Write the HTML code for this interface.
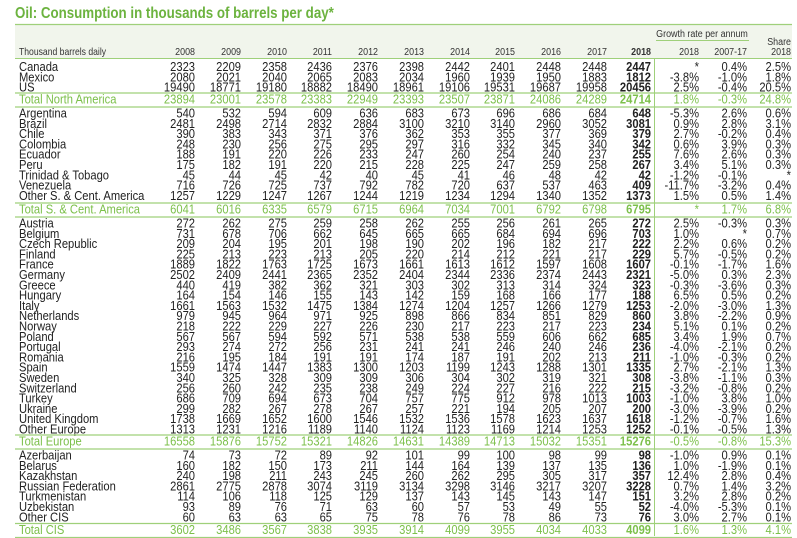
<!DOCTYPE html>
<html><head><meta charset="utf-8"><style>
html,body{margin:0;padding:0;background:#fff;}
svg{display:block;font-family:"Liberation Sans Narrow","Liberation Sans",Arial,sans-serif;}
</style></head><body>
<svg id="chart" width="797" height="538" viewBox="0 0 797 538">
<rect x="15" y="25" width="777" height="33" fill="#f1f5ec"/>
<text transform="translate(15,18) scale(0.86,1)" font-size="15.5" font-weight="bold" fill="#6cb33f" font-family="Liberation Sans, sans-serif">Oil: Consumption in thousands of barrels per day*</text>
<line x1="15" y1="24.5" x2="792" y2="24.5" stroke="#9fd07a" stroke-width="1.2"/>
<text transform="translate(702,37) scale(0.85,1)" font-size="10.5" fill="#333" text-anchor="middle">Growth rate per annum</text>
<line x1="656" y1="40.5" x2="749" y2="40.5" stroke="#9fd07a"/>
<text transform="translate(791,45) scale(0.85,1)" font-size="10.5" fill="#333" text-anchor="end">Share</text>
<text transform="translate(19,55) scale(0.82,1)" font-size="10.5" fill="#333">Thousand barrels daily</text>
<line x1="15" y1="58.5" x2="792" y2="58.5" stroke="#9fd07a"/>
<line x1="654.5" y1="58" x2="654.5" y2="536" stroke="#9fd07a"/>
<g id="body"></g>
</svg>
<script>
const years = ["2008","2009","2010","2011","2012","2013","2014","2015","2016","2017","2018"];
const growthHeaders = ["2018","2007-17","2018"];
const naRows = [
["Canada",2323,2209,2358,2436,2376,2398,2442,2401,2448,2448,2447,"*","0.4%","2.5%"],
["Mexico",2080,2021,2040,2065,2083,2034,1960,1939,1950,1883,1812,"-3.8%","-1.0%","1.8%"],
["US",19490,18771,19180,18882,18490,18961,19106,19531,19687,19958,20456,"2.5%","-0.4%","20.5%"]];
const naTotal = ["Total North America",23894,23001,23578,23383,22949,23393,23507,23871,24086,24289,24714,"1.8%","-0.3%","24.8%"];
const scaRows = [
["Argentina",540,532,594,609,636,683,673,696,686,684,648,"-5.3%","2.6%","0.6%"],
["Brazil",2481,2498,2714,2832,2884,3100,3210,3140,2960,3052,3081,"0.9%","2.8%","3.1%"],
["Chile",390,383,343,371,376,362,353,355,377,369,379,"2.7%","-0.2%","0.4%"],
["Colombia",248,230,256,275,295,297,316,332,345,340,342,"0.6%","3.9%","0.3%"],
["Ecuador",188,191,220,226,233,247,260,254,240,237,255,"7.6%","2.6%","0.3%"],
["Peru",175,182,191,220,215,228,225,247,259,258,267,"3.4%","5.1%","0.3%"],
["Trinidad & Tobago",45,44,45,42,40,45,41,46,48,42,42,"-1.2%","-0.1%","*"],
["Venezuela",716,726,725,737,792,782,720,637,537,463,409,"-11.7%","-3.2%","0.4%"],
["Other S. & Cent. America",1257,1229,1247,1267,1244,1219,1234,1294,1340,1352,1373,"1.5%","0.5%","1.4%"]];
const scaTotal = ["Total S. & Cent. America",6041,6016,6335,6579,6715,6964,7034,7001,6792,6798,6795,"*","1.7%","6.8%"];
const euRows = [
["Austria",272,262,275,259,258,262,255,256,261,265,272,"2.5%","-0.3%","0.3%"],
["Belgium",731,678,706,662,645,665,665,684,694,696,703,"1.0%","*","0.7%"],
["Czech Republic",209,204,195,201,198,190,202,196,182,217,222,"2.2%","0.6%","0.2%"],
["Finland",225,213,223,213,205,220,214,212,221,217,229,"5.7%","-0.5%","0.2%"],
["France",1889,1822,1763,1725,1673,1661,1613,1612,1597,1608,1607,"-0.1%","-1.7%","1.6%"],
["Germany",2502,2409,2441,2365,2352,2404,2344,2336,2374,2443,2321,"-5.0%","0.3%","2.3%"],
["Greece",440,419,382,362,321,303,302,313,314,324,323,"-0.3%","-3.6%","0.3%"],
["Hungary",164,154,146,155,143,142,159,168,166,177,188,"6.5%","0.5%","0.2%"],
["Italy",1661,1563,1532,1475,1384,1274,1204,1257,1266,1279,1253,"-2.0%","-3.0%","1.3%"],
["Netherlands",979,945,964,971,925,898,866,834,851,829,860,"3.8%","-2.2%","0.9%"],
["Norway",218,222,229,227,226,230,217,223,217,223,234,"5.1%","0.1%","0.2%"],
["Poland",567,567,594,592,571,538,538,559,606,662,685,"3.4%","1.9%","0.7%"],
["Portugal",293,274,272,256,231,241,241,246,240,246,236,"-4.0%","-2.1%","0.2%"],
["Romania",216,195,184,191,191,174,187,191,202,213,211,"-1.0%","-0.3%","0.2%"],
["Spain",1559,1474,1447,1383,1300,1203,1199,1243,1288,1301,1335,"2.7%","-2.1%","1.3%"],
["Sweden",340,325,328,309,309,306,304,302,319,321,308,"-3.8%","-1.1%","0.3%"],
["Switzerland",256,260,242,235,238,249,224,227,216,222,215,"-3.2%","-0.8%","0.2%"],
["Turkey",686,709,694,673,704,757,775,912,978,1013,1003,"-1.0%","3.8%","1.0%"],
["Ukraine",299,282,267,278,267,257,221,194,205,207,200,"-3.0%","-3.9%","0.2%"],
["United Kingdom",1738,1669,1652,1600,1546,1532,1536,1578,1623,1637,1618,"-1.2%","-0.7%","1.6%"],
["Other Europe",1313,1231,1216,1189,1140,1124,1123,1169,1214,1253,1252,"-0.1%","-0.5%","1.3%"]];
const euTotal = ["Total Europe",16558,15876,15752,15321,14826,14631,14389,14713,15032,15351,15276,"-0.5%","-0.8%","15.3%"];
const cisRows = [
["Azerbaijan",74,73,72,89,92,101,99,100,98,99,98,"-1.0%","0.9%","0.1%"],
["Belarus",160,182,150,173,211,144,164,139,137,135,136,"1.0%","-1.9%","0.1%"],
["Kazakhstan",240,198,211,243,245,260,262,295,305,317,357,"12.4%","2.8%","0.4%"],
["Russian Federation",2861,2775,2878,3074,3119,3134,3298,3146,3217,3207,3228,"0.7%","1.4%","3.2%"],
["Turkmenistan",114,106,118,125,129,137,143,145,143,147,151,"3.2%","2.8%","0.2%"],
["Uzbekistan",93,89,76,71,63,60,57,53,49,55,52,"-4.0%","-5.3%","0.1%"],
["Other CIS",60,63,63,65,75,78,76,78,86,73,76,"3.0%","2.7%","0.1%"]];
const cisTotal = ["Total CIS",3602,3486,3567,3838,3935,3914,4099,3955,4034,4033,4099,"1.6%","1.3%","4.1%"];

const NS="http://www.w3.org/2000/svg";
const g=document.getElementById('body');
const colX=[195,241,287,332,378,424,470,515,561,607,651,699,747,791];
function slug(s){return s.toLowerCase().replace(/[^a-z0-9]+/g,'-').replace(/^-|-$/g,'');}
function txt(x,y,s,opt){
  const t=document.createElementNS(NS,'text');
  t.setAttribute('transform','translate('+x+','+y+') scale('+(opt.sx||0.86)+',1)');
  t.setAttribute('font-size',opt.size||13);
  t.setAttribute('fill',opt.fill||'#222');
  if(opt.anchor)t.setAttribute('text-anchor',opt.anchor);
  if(opt.bold)t.setAttribute('font-weight','bold');
  t.textContent=s;
  
  
  g.appendChild(t);return t;
}
function line(y,name){
  const l=document.createElementNS(NS,'line');
  l.setAttribute('x1',15);l.setAttribute('x2',792);l.setAttribute('y1',y);l.setAttribute('y2',y);
  l.setAttribute('stroke','#9fd07a');l.setAttribute('stroke-width','1.2');
  
  
  g.appendChild(l);
}
years.forEach((yr,i)=>txt(colX[i],55,yr,{size:10.5,sx:0.85,fill:'#333',anchor:'end',bold:i===10,name:'year-header-'+yr}));
growthHeaders.forEach((h,i)=>txt(colX[11+i],55,h,{size:10.5,sx:0.85,fill:'#333',anchor:'end',name:'growth-header-'+slug(h)+'-'+i}));
function row(r,y,total){
  const fill=total?'#7cc04b':'#222';
  const base=slug(r[0]);
  txt(19,y,r[0],{fill:fill,name:'row-label-'+base});
  for(let i=1;i<r.length;i++){
    txt(colX[i-1],y,String(r[i]),{fill:fill,anchor:'end',bold:i===11,name:'cell-'+base+'-'+i});
  }
}
function section(rows,total,y0,ty){
  rows.forEach((r,i)=>row(r,y0+i*10.3,false));
  line(ty-10.5,'rule-above-'+slug(total[0]));
  row(total,ty,true);
  line(ty+3.5,'rule-below-'+slug(total[0]));
}
section(naRows,naTotal,71,103.5);
section(scaRows,scaTotal,117.5,213.5);
section(euRows,euTotal,227.5,445.5);
section(cisRows,cisTotal,459.5,534);
</script>
</body></html>
